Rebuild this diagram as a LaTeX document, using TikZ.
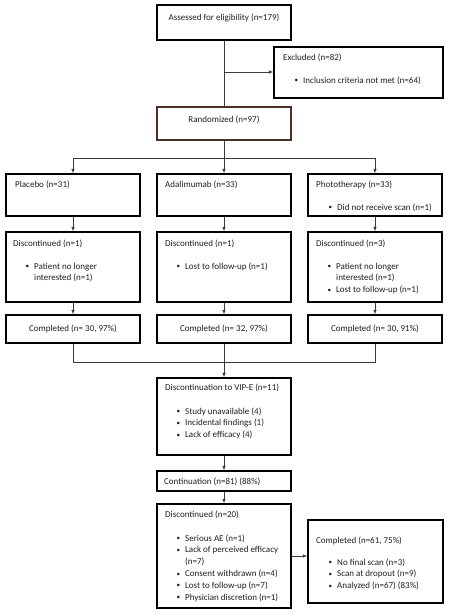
\documentclass[tikz,border=0pt]{standalone}
\usepackage{fontspec}
\setmainfont{Carlito}
\usetikzlibrary{arrows.meta}
\definecolor{linegray}{HTML}{3A3A3A}
\definecolor{randbrown}{HTML}{4A3025}
\definecolor{txtcol}{HTML}{1E1E1E}
\newcommand{\blt}{\makebox[8.5pt][l]{\raisebox{0.3pt}{\scalebox{0.8}{•}}}}
\newcommand{\blist}[1]{\begin{tabular}[t]{@{}l@{}l@{}}#1\end{tabular}}
\tikzset{
  box/.style={draw=black, line width=1.3pt, rectangle, inner sep=0pt},
  txt/.style={inner sep=0pt, text=txtcol, font=\fontsize{9}{11.8}\selectfont},
  conn/.style={draw=linegray, line width=0.7pt},
  arr/.style={conn, -{Latex[length=4.5pt,width=3.5pt]}},
}
\begin{document}
\begin{tikzpicture}[x=1pt,y=-1pt]
\useasboundingbox (0,0) rectangle (448,614);
% boxes
\node[box, minimum width=134pt, minimum height=35pt] (assess) at (224,22.5) {};
\node[box, minimum width=169pt, minimum height=51pt] (excl) at (358.5,72.5) {};
\node[box, draw=randbrown, minimum width=134pt, minimum height=33pt] (rand) at (224,123.5) {};
\node[box, minimum width=134pt, minimum height=42pt] (plac) at (73,195) {};
\node[box, minimum width=134pt, minimum height=42pt] (adal) at (224,195) {};
\node[box, minimum width=134pt, minimum height=42pt] (photo) at (375,195) {};
\node[box, minimum width=134pt, minimum height=70pt] (dplac) at (73,267) {};
\node[box, minimum width=134pt, minimum height=70pt] (dadal) at (224,267) {};
\node[box, minimum width=134pt, minimum height=70pt] (dphoto) at (375,267) {};
\node[box, minimum width=134pt, minimum height=28pt] (cplac) at (73,329) {};
\node[box, minimum width=134pt, minimum height=28pt] (cadal) at (224,329) {};
\node[box, minimum width=134pt, minimum height=28pt] (cphoto) at (375,329) {};
\node[box, minimum width=134pt, minimum height=77pt] (vip) at (224,416.5) {};
\node[box, minimum width=134pt, minimum height=20pt] (cont) at (224,481) {};
\node[box, minimum width=134pt, minimum height=104pt] (disc) at (224,556) {};
\node[box, minimum width=135pt, minimum height=83pt] (final) at (375.5,561.5) {};
% texts
\node[txt, anchor=base] (tassess) at (224,20) {Assessed for eligibility (n=179)};
\node[txt, anchor=base west] (texcl) at (283,60) {Excluded (n=82)};
\node[txt, anchor=base west] (lexcl) at (294.5,83) {\blist{\blt & Inclusion criteria not met (n=64)}};
\node[txt, anchor=base] (trand) at (224,122) {Randomized (n=97)};
\node[txt, anchor=base west] (tplac) at (15,187) {Placebo (n=31)};
\node[txt, anchor=base west] (tadal) at (165,187) {Adalimumab (n=33)};
\node[txt, anchor=base west] (tphoto) at (316,187) {Phototherapy (n=33)};
\node[txt, anchor=base west] (lphoto) at (328.5,210) {\blist{\blt & Did not receive scan (n=1)}};
\node[txt, anchor=base west] (tdplac) at (13,246) {Discontinued (n=1)};
\node[txt, anchor=base west] (tdadal) at (165,246) {Discontinued (n=1)};
\node[txt, anchor=base west] (tdphoto) at (316,246) {Discontinued (n=3)};
\node[txt, anchor=base west] (ldplac) at (25.5,269) {\blist{\blt & Patient no longer\\ & interested (n=1)}};
\node[txt, anchor=base west] (ldadal) at (176.5,269) {\blist{\blt & Lost to follow-up (n=1)}};
\node[txt, anchor=base west] (ldphoto) at (327.5,269) {\blist{\blt & Patient no longer\\ & interested (n=1)\\ \blt & Lost to follow-up (n=1)}};
\node[txt, anchor=base] (tcplac) at (73,331) {Completed (n= 30, 97\%)};
\node[txt, anchor=base] (tcadal) at (224,331) {Completed (n= 32, 97\%)};
\node[txt, anchor=base] (tcphoto) at (375,331) {Completed (n= 30, 91\%)};
\node[txt, anchor=base west] (tvip) at (165,390) {Discontinuation to VIP-E (n=11)};
\node[txt, anchor=base west] (lvip) at (176.5,414) {\blist{\blt & Study unavailable (4)\\ \blt & Incidental findings (1)\\ \blt & Lack of efficacy (4)}};
\node[txt, anchor=base west] (tcont) at (164,484) {Continuation (n=81) (88\%)};
\node[txt, anchor=base west] (tdisc) at (165,517) {Discontinued (n=20)};
\node[txt, anchor=base west] (ldisc) at (176.5,541) {\blist{\blt & Serious AE (n=1)\\ \blt & Lack of perceived efficacy\\ & (n=7)\\ \blt & Consent withdrawn (n=4)\\ \blt & Lost to follow-up (n=7)\\ \blt & Physician discretion (n=1)}};
\node[txt, anchor=base west] (tfinal) at (316,543) {Completed (n=61, 75\%)};
\node[txt, anchor=base west] (lfinal) at (328.5,565) {\blist{\blt & No final scan (n=3)\\ \blt & Scan at dropout (n=9)\\ \blt & Analyzed (n=67) (83\%)}};
% connectors
\coordinate (jexcl) at (224,72);
\coordinate (jsplit) at (224,158);
\coordinate (jl) at (73,158);
\coordinate (jr) at (375,158);
\coordinate (jmerge) at (224,362);
\coordinate (ml) at (73,362);
\coordinate (mr) at (375,362);
\draw[conn] (assess.south) -- (rand.north);
\draw[arr] (jexcl) -- (excl.west |- jexcl);
\draw[conn] (rand.south) -- (jsplit);
\draw[conn] (jl) -- (jr);
\draw[arr] (jl) -- (plac.north);
\draw[arr] (jsplit) -- (adal.north);
\draw[arr] (jr) -- (photo.north);
\draw[arr] (plac.south) -- (dplac.north);
\draw[arr] (adal.south) -- (dadal.north);
\draw[arr] (photo.south) -- (dphoto.north);
\draw[arr] (dplac.south) -- (cplac.north);
\draw[arr] (dadal.south) -- (cadal.north);
\draw[arr] (dphoto.south) -- (cphoto.north);
\draw[conn] (cplac.south) -- (ml) -- (mr) -- (cphoto.south);
\draw[conn] (cadal.south) -- (jmerge);
\draw[arr] (jmerge) -- (vip.north);
\draw[arr] (vip.south) -- (cont.north);
\draw[arr] (cont.south) -- (disc.north);
\draw[arr] (disc.east) -- (final.west |- disc.east);
\end{tikzpicture}
\end{document}
